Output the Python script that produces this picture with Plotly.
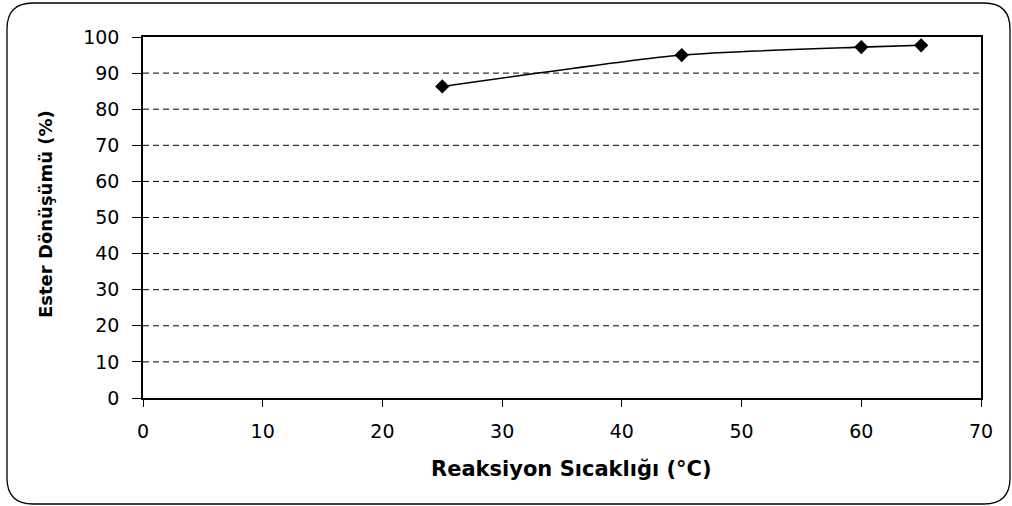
import plotly.graph_objects as go

# Reaction temperature (°C) vs. ester conversion (%)
sicaklik = [25, 45, 60, 65]
donusum = [86.3, 95.0, 97.2, 97.7]

x_ticks = [0, 10, 20, 30, 40, 50, 60, 70]
y_ticks = [0, 10, 20, 30, 40, 50, 60, 70, 80, 90, 100]

x_title = "Reaksiyon Sıcaklığı (°C)"
y_title = "Ester Dönüşümü (%)"

W, H = 1012, 506
L, R, T, B = 143, 31, 37, 108
pw, ph = W - L - R, H - T - B

FONT = "'DejaVu Sans', Arial, sans-serif"


def px2paper(px, py):
    return (px - L) / pw, (H - B - py) / ph


fig = go.Figure()
fig.add_trace(go.Scatter(
    x=sicaklik, y=donusum,
    mode="lines+markers",
    line=dict(color="black", width=1.6, shape="spline", smoothing=0.6),
    marker=dict(symbol="diamond", size=11, color="black"),
    showlegend=False,
))

# dashed horizontal grid lines
for v in y_ticks[1:-1]:
    fig.add_shape(type="line", xref="paper", yref="y", x0=0, x1=1, y0=v, y1=v,
                  line=dict(color="black", width=1, dash="6px,4px"), layer="below")

# rounded outer frame, drawn in paper units
x0p, y0p, x1p, y1p, rad = 7, 3, 1010, 504, 26
pts = {
    "a": px2paper(x0p + rad, y0p), "b": px2paper(x1p - rad, y0p),
    "c": px2paper(x1p, y0p), "d": px2paper(x1p, y0p + rad),
    "e": px2paper(x1p, y1p - rad), "f": px2paper(x1p, y1p),
    "g": px2paper(x1p - rad, y1p), "h": px2paper(x0p + rad, y1p),
    "i": px2paper(x0p, y1p), "j": px2paper(x0p, y1p - rad),
    "k": px2paper(x0p, y0p + rad), "l": px2paper(x0p, y0p),
}


def p(k):
    return f"{pts[k][0]:.5f},{pts[k][1]:.5f}"


path = (f"M {p('a')} L {p('b')} Q {p('c')} {p('d')} L {p('e')} Q {p('f')} {p('g')} "
        f"L {p('h')} Q {p('i')} {p('j')} L {p('k')} Q {p('l')} {p('a')} Z")
fig.add_shape(type="path", xref="paper", yref="paper", path=path,
              line=dict(color="black", width=1.3), fillcolor="rgba(0,0,0,0)")

# axis titles
xt = px2paper(571, 469)
fig.add_annotation(text=f"<b>{x_title}</b>", xref="paper", yref="paper",
                   x=xt[0], y=xt[1], xanchor="center", yanchor="middle",
                   showarrow=False, font=dict(size=21, family=FONT, color="black"))
yt = px2paper(45, 214)
fig.add_annotation(text=f"<b>{y_title}</b>", xref="paper", yref="paper",
                   x=yt[0], y=yt[1], xanchor="center", yanchor="middle",
                   textangle=-90, showarrow=False,
                   font=dict(size=18, family=FONT, color="black"))

fig.update_layout(
    width=W, height=H,
    margin=dict(l=L, r=R, t=T, b=B),
    paper_bgcolor="white", plot_bgcolor="white",
    font=dict(family=FONT, size=19, color="black"),
    xaxis=dict(
        range=[0, 70], tickvals=x_ticks, ticks="outside", ticklen=7, tickwidth=1,
        tickcolor="black", showgrid=False, zeroline=False,
        showline=True, linecolor="black", linewidth=1.5, mirror=True,
        ticklabelstandoff=8,
    ),
    yaxis=dict(
        range=[0, 100], tickvals=y_ticks, ticks="outside", ticklen=9, tickwidth=1,
        tickcolor="black", showgrid=False, zeroline=False,
        showline=True, linecolor="black", linewidth=1.5, mirror=True,
        ticklabelstandoff=9,
    ),
)

fig.write_html("out.html")
